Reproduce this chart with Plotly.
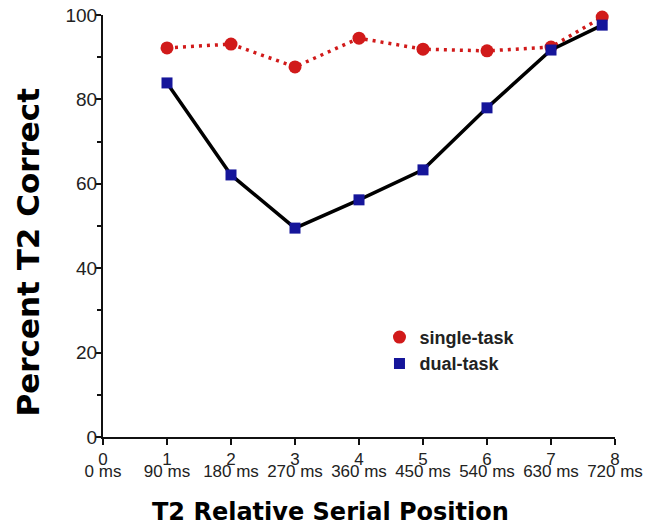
import plotly.graph_objects as go

positions = [1, 2, 3, 4, 5, 6, 7, 7.8]
single_task = [92.2, 93.1, 87.7, 94.5, 91.9, 91.5, 92.4, 99.5]
dual_task = [83.9, 62.1, 49.5, 56.2, 63.3, 78.0, 91.7, 97.6]

tick_vals = [0, 1, 2, 3, 4, 5, 6, 7, 8]
tick_nums = ["0", "1", "2", "3", "4", "5", "6", "7", "8"]
tick_ms = ["0 ms", "90 ms", "180 ms", "270 ms", "360 ms", "450 ms", "540 ms", "630 ms", "720 ms"]
y_ticks = [0, 20, 40, 60, 80, 100]

x_title = "T2 Relative Serial Position"
y_title = "Percent T2 Correct"

RED = "#d11a1a"
BLUE = "#15159a"

fig = go.Figure()
fig.add_trace(go.Scatter(
    x=positions, y=single_task, mode="lines+markers", name="single-task",
    line=dict(color=RED, width=3.5, dash="3px,5px"),
    marker=dict(symbol="circle", size=13, color=RED),
    cliponaxis=False, showlegend=False))
fig.add_trace(go.Scatter(
    x=positions, y=dual_task, mode="lines+markers", name="dual-task",
    line=dict(color="black", width=3.5),
    marker=dict(symbol="square", size=11, color=BLUE),
    cliponaxis=False, showlegend=False))
# legend-only entries (markers only, as in the reference)
fig.add_trace(go.Scatter(x=[None], y=[None], mode="markers", name="single-task",
                         marker=dict(symbol="circle", size=13, color=RED)))
fig.add_trace(go.Scatter(x=[None], y=[None], mode="markers", name="dual-task",
                         marker=dict(symbol="square", size=11, color=BLUE)))

tickfont = dict(family="Liberation Sans, Arial, sans-serif", size=17, color="#222")

fig.update_layout(
    width=651, height=530,
    margin=dict(l=95, r=44, t=7, b=101),
    plot_bgcolor="white", paper_bgcolor="white",
    showlegend=True,
    legend=dict(x=0.54, y=0.28, xanchor="left", yanchor="top",
                font=dict(family="Liberation Sans, Arial, sans-serif", size=18,
                          color="#222", weight="bold"),
                itemwidth=30, bgcolor="rgba(0,0,0,0)", tracegroupgap=0),
    xaxis=dict(range=[0, 8], tickmode="array", tickvals=tick_vals, ticktext=tick_nums,
               showgrid=False, zeroline=False, showline=True, linecolor="#111", linewidth=2,
               ticks="outside", ticklen=6, tickwidth=2, tickcolor="#111",
               tickfont=tickfont, ticklabeloverflow="allow",
               automargin=False),
    xaxis2=dict(range=[0, 8], overlaying="x", anchor="y", side="bottom",
                tickmode="array", tickvals=tick_vals, ticktext=tick_ms,
                showgrid=False, zeroline=False, showline=False, ticks="",
                tickfont=tickfont, ticklabelstandoff=22, ticklabeloverflow="allow",
                automargin=False),
    yaxis=dict(range=[0, 100], tickmode="array", tickvals=y_ticks,
               showgrid=False, zeroline=False, showline=True, linecolor="#111", linewidth=2,
               ticks="outside", ticklen=5, tickwidth=1.5, tickcolor="#111",
               minor=dict(ticks="outside", dtick=10, ticklen=4, tickwidth=1.5, tickcolor="#111"),
               tickfont=dict(family="Liberation Sans, Arial, sans-serif", size=19, color="#222"),
               ticklabelstandoff=-5, ticklabeloverflow="allow",
               automargin=False),
    annotations=[
        dict(text=x_title, xref="paper", yref="paper", x=0.445, y=-0.178,
             xanchor="center", yanchor="middle", showarrow=False,
             font=dict(family="DejaVu Sans, sans-serif", size=24, color="black", weight="bold")),
        dict(text=y_title, xref="paper", yref="paper", x=-0.146, y=0.438,
             xanchor="center", yanchor="middle", showarrow=False, textangle=-90,
             font=dict(family="DejaVu Sans, sans-serif", size=31, color="black", weight="bold")),
    ],
)
# invisible trace so the second (ms) tick-label row renders
fig.add_trace(go.Scatter(x=[None], y=[None], xaxis="x2", yaxis="y", showlegend=False, hoverinfo="skip"))

fig.write_html("out.html")
